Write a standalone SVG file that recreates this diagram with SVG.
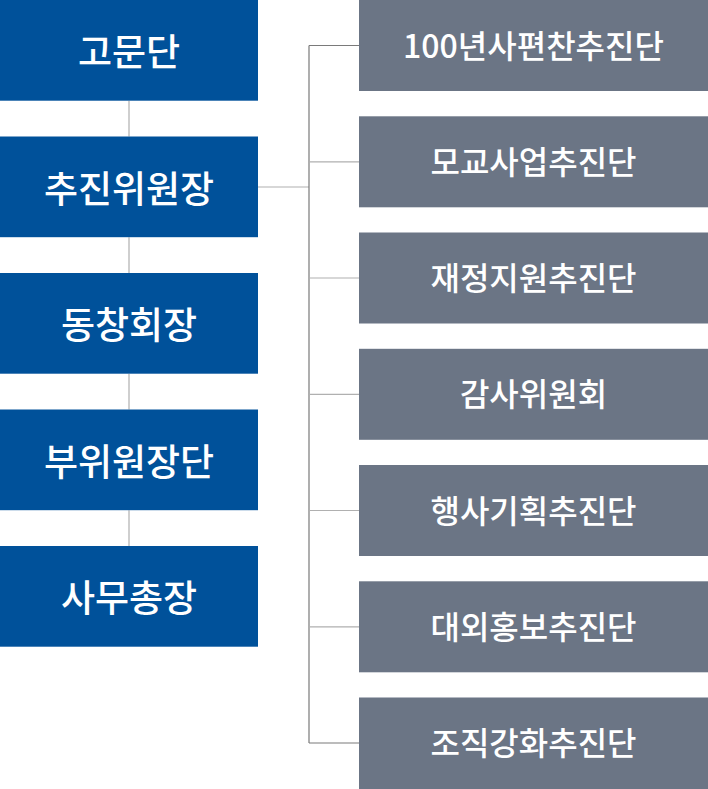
<svg xmlns="http://www.w3.org/2000/svg" width="708" height="789" viewBox="0 0 708 789">
<style>
.l rect{fill:#00519a}
.r rect{fill:#6b7585}
text{fill:#fff;font-family:"Noto Sans CJK KR","Noto Sans",sans-serif;font-weight:500;text-anchor:middle}
.l text{font-size:37px}
.r text{font-size:32px}
.c1{stroke:#b0b0b0;stroke-width:1.2;fill:none}
.c2{stroke:#7a7a7a;stroke-width:1.2;fill:none}
</style>
<g id="connectors">
<path class="c1" d="M129 100.7V136.5M129 237.2V273M129 373.7V409.5M129 510.2V546"/>
<path class="c1" d="M258 187H309"/>
<path class="c2" d="M309 45.5V743M309 45.5H359M309 743H359"/>
<path class="c1" d="M309 161.8H359M309 278H359M309 394.3H359M309 510.5H359M309 626.8H359"/>
</g>
<g id="n-gomundan" class="l"><rect x="0" y="0" width="258" height="100.7"/><text x="129" y="66">고문단</text></g>
<g id="n-chujinwiwonjang" class="l"><rect x="0" y="136.5" width="258" height="100.7"/><text x="129" y="202.5">추진위원장</text></g>
<g id="n-dongchanghoejang" class="l"><rect x="0" y="273" width="258" height="100.7"/><text x="129" y="339">동창회장</text></g>
<g id="n-buwiwonjangdan" class="l"><rect x="0" y="409.5" width="258" height="100.7"/><text x="129" y="475.5">부위원장단</text></g>
<g id="n-samuchongjang" class="l"><rect x="0" y="546" width="258" height="100.7"/><text x="129" y="612">사무총장</text></g>
<g id="r1" class="r"><rect x="359" y="0" width="349" height="91"/><text x="533.5" y="57.5">100년사편찬추진단</text></g>
<g id="r2" class="r"><rect x="359" y="116.3" width="349" height="91"/><text x="533.5" y="173.8">모교사업추진단</text></g>
<g id="r3" class="r"><rect x="359" y="232.5" width="349" height="91"/><text x="533.5" y="290">재정지원추진단</text></g>
<g id="r4" class="r"><rect x="359" y="348.8" width="349" height="91"/><text x="533.5" y="406.3">감사위원회</text></g>
<g id="r5" class="r"><rect x="359" y="465" width="349" height="91"/><text x="533.5" y="522.5">행사기획추진단</text></g>
<g id="r6" class="r"><rect x="359" y="581.3" width="349" height="91"/><text x="533.5" y="638.8">대외홍보추진단</text></g>
<g id="r7" class="r"><rect x="359" y="697.5" width="349" height="91.5"/><text x="533.5" y="755">조직강화추진단</text></g>
</svg>
